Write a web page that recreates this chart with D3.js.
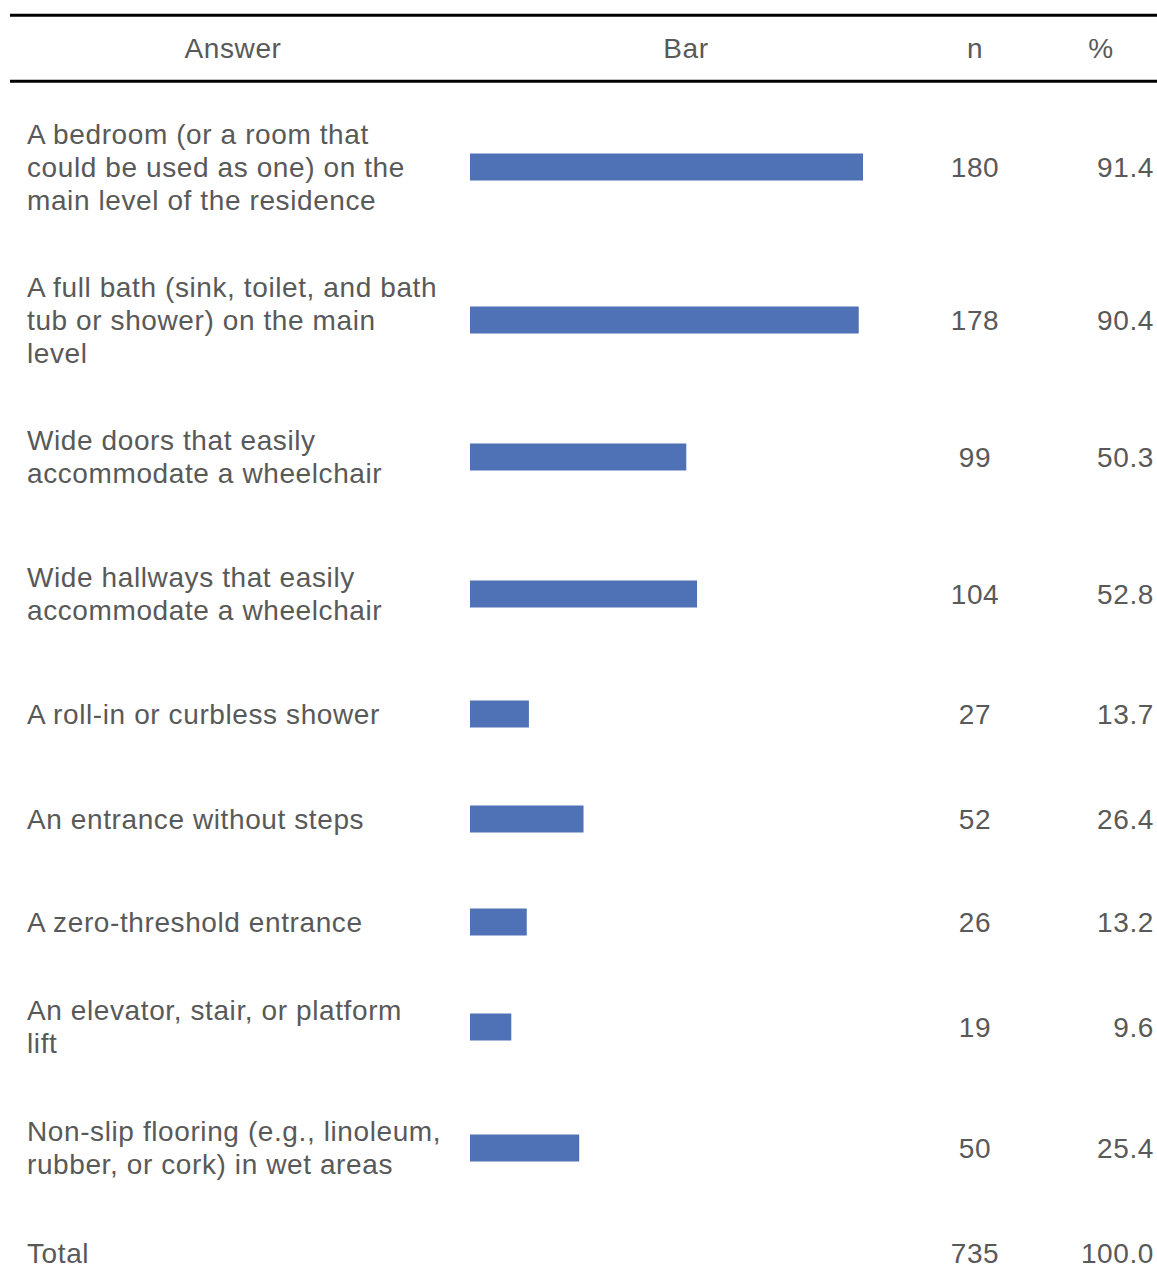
<!DOCTYPE html>
<html>
<head>
<meta charset="utf-8">
<script src="https://cdn.jsdelivr.net/npm/d3@7"></script>
<style>
  body { margin: 0; background: #fff; }
  svg text { font-family: "Liberation Sans", Arial, Helvetica, sans-serif; fill: #595959; letter-spacing: 0.6px; }
</style>
</head>
<body>
<div id="chart"></div>
<script>
// answers, already broken into the lines they wrap to
const answers = [
  ["A bedroom (or a room that", "could be used as one) on the", "main level of the residence"],
  ["A full bath (sink, toilet, and bath", "tub or shower) on the main", "level"],
  ["Wide doors that easily", "accommodate a wheelchair"],
  ["Wide hallways that easily", "accommodate a wheelchair"],
  ["A roll-in or curbless shower"],
  ["An entrance without steps"],
  ["A zero-threshold entrance"],
  ["An elevator, stair, or platform", "lift"],
  ["Non-slip flooring (e.g., linoleum,", "rubber, or cork) in wet areas"]
];
const counts = [180, 178, 99, 104, 27, 52, 26, 19, 50];
const percents = [91.4, 90.4, 50.3, 52.8, 13.7, 26.4, 13.2, 9.6, 25.4];
const headers = ["Answer", "Bar", "n", "%"];
const totalLabel = "Total";
const totalCount = 735;
const totalPercent = 100.0;

// layout
const width = 1157, height = 1279;
const fontSize = 28, lineH = 33;
const headTop = 15.3, headBottom = 81.3, rowsTop = 82;
const rowHeights = [170, 136, 138, 136, 104, 106, 100, 110, 132, 78];
const col = { labelX: 27, answerC: 233, barC: 686, nC: 975, pctR: 1154, pctC: 1101 };
const barH = 27;

const svg = d3.select('#chart').append('svg')
  .attr('width', width)
  .attr('height', height);

const x = d3.scaleLinear().domain([0, 100]).range([470, 900]);

// row centres from the heights
let rowCenters = [];
let acc = rowsTop;
rowHeights.forEach((h) => {
  rowCenters.push(acc + h / 2);
  acc += h;
});

// rules
[headTop, headBottom].forEach((y) => {
  svg.append('line')
    .attr('x1', 10).attr('x2', width)
    .attr('y1', y).attr('y2', y)
    .attr('stroke', '#000').attr('stroke-width', 3);
});

// header
const headX = [col.answerC, col.barC, col.nC, col.pctC];
svg.selectAll('text.head')
  .data(headers)
  .enter()
  .append('text')
  .classed('head', true)
  .attr('x', (d, i) => headX[i])
  .attr('y', 48.5)
  .attr('dy', '0.35em')
  .attr('text-anchor', 'middle')
  .attr('font-size', fontSize)
  .text((d) => d);

const rows = answers.map((lines, i) => ({
  lines: lines,
  n: counts[i],
  pct: percents[i],
  cy: rowCenters[i]
}));

const row = svg.selectAll('g.row')
  .data(rows)
  .enter()
  .append('g')
  .classed('row', true);

row.append('text')
  .attr('font-size', fontSize)
  .each(function(d) {
    const t = d3.select(this);
    const y0 = d.cy - (d.lines.length - 1) * lineH / 2;
    d.lines.forEach((line, j) => {
      t.append('tspan')
        .attr('x', col.labelX)
        .attr('y', y0 + j * lineH)
        .attr('dy', '0.35em')
        .text(line);
    });
  });

row.append('rect')
  .attr('x', x(0))
  .attr('y', (d) => d.cy - barH / 2)
  .attr('width', (d) => x(d.pct) - x(0))
  .attr('height', barH)
  .attr('fill', '#4f71b5');

row.append('text')
  .attr('x', col.nC)
  .attr('y', (d) => d.cy)
  .attr('dy', '0.35em')
  .attr('text-anchor', 'middle')
  .attr('font-size', fontSize)
  .text((d) => d.n);

row.append('text')
  .attr('x', col.pctR)
  .attr('y', (d) => d.cy)
  .attr('dy', '0.35em')
  .attr('text-anchor', 'end')
  .attr('font-size', fontSize)
  .text((d) => d3.format('.1f')(d.pct));

// total row
const totalY = rowCenters[rowCenters.length - 1];
svg.append('text')
  .attr('x', col.labelX).attr('y', totalY).attr('dy', '0.35em')
  .attr('font-size', fontSize)
  .text(totalLabel);
svg.append('text')
  .attr('x', col.nC).attr('y', totalY).attr('dy', '0.35em')
  .attr('text-anchor', 'middle')
  .attr('font-size', fontSize)
  .text(totalCount);
svg.append('text')
  .attr('x', col.pctR).attr('y', totalY).attr('dy', '0.35em')
  .attr('text-anchor', 'end')
  .attr('font-size', fontSize)
  .text(d3.format('.1f')(totalPercent));
</script>
</body>
</html>
